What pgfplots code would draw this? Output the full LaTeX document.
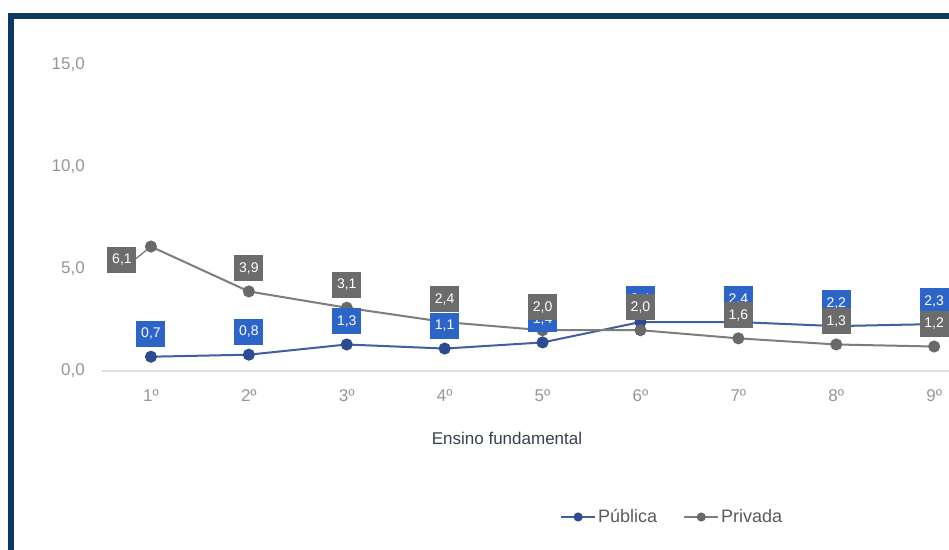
\documentclass[border=0pt]{standalone}
\usepackage{fontspec}
\setmainfont{Liberation Sans}
\usepackage{pgfplots}
\pgfplotsset{compat=1.18}
\usepackage{pgfplotstable}

\definecolor{moldura}{RGB}{10,55,100}
\definecolor{publine}{RGB}{65,95,160}
\definecolor{pubmark}{RGB}{45,75,145}
\definecolor{pubbox}{RGB}{45,100,200}
\definecolor{privline}{RGB}{125,125,125}
\definecolor{privmark}{RGB}{105,105,105}
\definecolor{privbox}{RGB}{108,108,108}
\definecolor{ticktext}{RGB}{150,150,150}
\definecolor{axtext}{RGB}{55,65,80}
\definecolor{legtext}{RGB}{90,90,90}

% Taxa por ano do ensino fundamental
\pgfplotstableread{
ano valor
1 0.7
2 0.8
3 1.3
4 1.1
5 1.4
6 2.4
7 2.4
8 2.2
9 2.3
}\publica

\pgfplotstableread{
ano valor
1 6.1
2 3.9
3 3.1
4 2.4
5 2.0
6 2.0
7 1.6
8 1.3
9 1.2
}\privada

\pgfplotsset{
  rotulo/.style={
    nodes near coords={\pgfmathprintnumber[fixed,fixed zerofill,precision=1,use comma,assume math mode=true]{\pgfplotspointmeta}},
    every node near coord/.style={fill=#1, text=white, font=\fontsize{14bp}{16bp}\selectfont,
      minimum width=29bp, minimum height=26bp, inner sep=0pt, anchor=center, yshift=23bp},
  },
  legenda/.style={
    legend image code/.code={\draw[mark repeat=2,mark phase=2,##1,mark size=3.5bp]
      plot coordinates {(0bp,0bp) (17bp,0bp) (34bp,0bp)};}
  },
}

\begin{document}
\begin{tikzpicture}
\useasboundingbox (0,0) rectangle (949bp,550bp);
\fill[white] (0,0) rectangle (949bp,550bp);
\clip (0,0) rectangle (949bp,550bp);
\begin{axis}[
  at={(102bp,179bp)}, anchor=south west,
  scale only axis, width=979bp, height=306bp,
  xmin=0.5, xmax=10.5, ymin=0, ymax=15,
  separate axis lines,
  axis x line*=bottom, axis y line*=left,
  x axis line style={draw=black!12, line width=2bp, -},
  y axis line style={draw=none},
  major tick length=0pt,
  tick style={draw=none},
  ytick={0,5,10,15},
  yticklabel={\pgfmathprintnumber[fixed,fixed zerofill,precision=1,use comma,assume math mode=true]{\tick}},
  yticklabel style={text=ticktext, font=\fontsize{17bp}{20bp}\selectfont, anchor=east, inner sep=0pt, xshift=-17bp},
  xtick={1,...,9},
  xticklabels={1º,2º,3º,4º,5º,6º,7º,8º,9º},
  xticklabel style={text=ticktext, font=\fontsize{17bp}{20bp}\selectfont, anchor=north, inner sep=0pt, yshift=-18bp},
  xlabel={Ensino fundamental},
  xlabel style={at={(axis description cs:0.4137,-0.219)}, anchor=center, text=axtext,
    font=\fontsize{17bp}{20bp}\selectfont},
  legend columns=2,
  legend style={at={(axis description cs:0.4678,-0.4771)}, anchor=west, draw=none, fill=none,
    inner xsep=0pt, font=\fontsize{18bp}{21bp}\selectfont, text=legtext,
    /tikz/every even column/.append style={column sep=24bp}},
  legend cell align=left,
  clip=false,
]
\addplot[publine, line width=2bp, mark=*, mark size=5bp, mark options={draw=pubmark, fill=pubmark}, legenda]
  table[x=ano,y=valor]{\publica};
\addlegendentry{Pública}
\addplot[privline, line width=2bp, mark=*, mark size=5bp, mark options={draw=privmark, fill=privmark}, legenda]
  table[x=ano,y=valor]{\privada};
\addlegendentry{Privada}
% ligação do rótulo do 1º ano (privada), posto à esquerda do ponto
\draw[privbox, line width=1.2bp] (axis cs:1,6.1) ++(-15bp,-12bp) -- (axis cs:1,6.1);
% rótulos de valor
\addplot[draw=none, forget plot, rotulo=pubbox] table[x=ano,y=valor]{\publica};
\addplot[draw=none, forget plot, rotulo=privbox, skip coords between index={0}{1}] table[x=ano,y=valor]{\privada};
\addplot[draw=none, forget plot, rotulo=privbox, skip coords between index={1}{9},
  every node near coord/.append style={xshift=-29bp, yshift=-36bp}] table[x=ano,y=valor]{\privada};
\end{axis}
\draw[moldura, line width=6bp, line join=miter] (11bp,-10bp) -- (11bp,534bp) -- (960bp,534bp);
\end{tikzpicture}
\end{document}
